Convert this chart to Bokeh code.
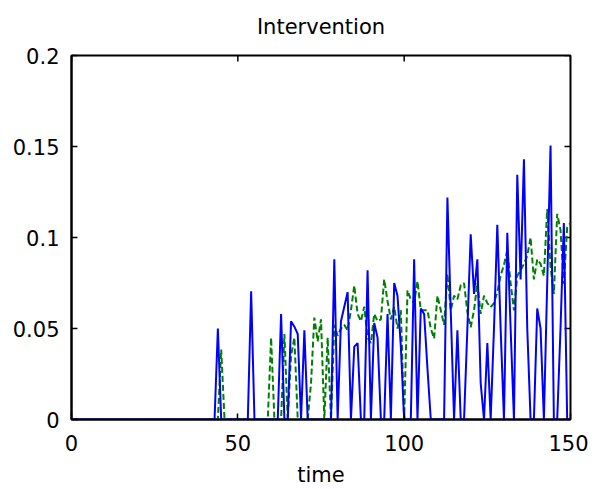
import math
from bokeh.plotting import figure
from bokeh.models import LinearAxis, FixedTicker, Range1d
from bokeh.embed import file_html
from bokeh.resources import INLINE

# ---- data ----
time = list(range(0, 151))

blue_nonzero = {
    44: 0.050, 54: 0.0705, 63: 0.058, 66: 0.054, 67: 0.051, 68: 0.047, 70: 0.049,
    79: 0.088, 81: 0.054, 82: 0.062, 83: 0.070, 85: 0.040, 86: 0.042, 89: 0.082,
    91: 0.053, 92: 0.045, 95: 0.058, 97: 0.075, 98: 0.068, 99: 0.040, 103: 0.088,
    105: 0.061, 106: 0.058, 107: 0.028, 113: 0.122, 114: 0.060, 116: 0.049,
    119: 0.050, 120: 0.1017, 121: 0.069, 122: 0.088, 123: 0.020, 125: 0.042,
    127: 0.050, 128: 0.107, 129: 0.050, 131: 0.1026, 132: 0.050, 134: 0.1345,
    135: 0.077, 136: 0.143, 137: 0.050, 140: 0.061, 141: 0.050, 143: 0.075,
    144: 0.1505, 147: 0.050, 148: 0.108,
}
green_nonzero = {
    45: 0.0385, 60: 0.045, 64: 0.047, 66: 0.035, 67: 0.045, 72: 0.020, 73: 0.056,
    74: 0.043, 75: 0.055, 77: 0.045, 79: 0.052, 80: 0.046, 81: 0.050, 82: 0.052,
    83: 0.049, 84: 0.060, 85: 0.0736, 86: 0.058, 87: 0.054, 88: 0.062, 89: 0.045,
    90: 0.042, 91: 0.058, 92: 0.054, 93: 0.055, 94: 0.077, 95: 0.065, 96: 0.055,
    97: 0.062, 98: 0.050, 99: 0.060, 101: 0.071, 102: 0.066, 103: 0.064,
    104: 0.076, 105: 0.060, 106: 0.060, 107: 0.060, 108: 0.050, 109: 0.0445,
    110: 0.068, 111: 0.060, 112: 0.052, 113: 0.080, 114: 0.060, 115: 0.068,
    116: 0.066, 117: 0.0736, 118: 0.075, 119: 0.059, 120: 0.0507, 121: 0.060,
    122: 0.075, 123: 0.058, 124: 0.068, 125: 0.064, 126: 0.0617, 127: 0.064,
    128: 0.070, 129: 0.079, 130: 0.085, 131: 0.093, 132: 0.075, 133: 0.060,
    134: 0.079, 135: 0.082, 136: 0.0855, 137: 0.090, 138: 0.100, 139: 0.077,
    140: 0.088, 141: 0.0855, 142: 0.079, 143: 0.1157, 144: 0.084, 145: 0.069,
    146: 0.113, 147: 0.104, 148: 0.0745, 149: 0.1056, 150: 0.108,
}
blue_series = [blue_nonzero.get(t, 0.0) for t in time]
green_series = [green_nonzero.get(t, 0.0) for t in time]

x_ticks = [0, 50, 100, 150]
y_ticks = [0, 0.05, 0.1, 0.15, 0.2]
y_tick_labels = ["0", "0.05", "0.1", "0.15", "0.2"]
title_text = "Intervention"
x_label = "time"

FONT = "DejaVu Sans"
FS = "21px"
X_MIN, X_MAX = 0, 150
Y_MIN, Y_MAX = 0, 0.2

p = figure(width=588, height=489, output_backend="svg", toolbar_location=None,
           x_range=Range1d(X_MIN, X_MAX), y_range=Range1d(Y_MIN, Y_MAX),
           x_axis_location=None, y_axis_location=None,
           min_border_left=71, min_border_right=18, min_border_top=55,
           min_border_bottom=62, title=title_text)
p.title.align = "center"
p.title.vertical_align = "top"
p.title.offset = -4
p.title.text_font = FONT
p.title.text_font_size = FS
p.title.text_font_style = "normal"
p.title.text_color = "black"
p.title.standoff = 29
p.grid.visible = False
p.outline_line_color = "black"
p.outline_line_width = 2
p.background_fill_color = "white"
p.border_fill_color = "white"

def style(ax):
    ax.axis_line_color = "black"
    ax.axis_line_width = 2
    ax.major_tick_in = 6
    ax.major_tick_out = 0
    ax.major_tick_line_color = "black"
    ax.major_tick_line_width = 1.5
    ax.minor_tick_line_color = None
    ax.major_label_text_font = FONT
    ax.major_label_text_color = "black"
    ax.major_label_text_font_size = FS

xb = LinearAxis(ticker=FixedTicker(ticks=x_ticks), axis_label=x_label)
style(xb)
xb.major_label_standoff = 15
xb.axis_label_text_font = FONT
xb.axis_label_text_font_size = FS
xb.axis_label_text_font_style = "normal"
xb.axis_label_text_color = "black"
xb.axis_label_standoff = 9
p.add_layout(xb, "below")

yl = LinearAxis(ticker=FixedTicker(ticks=y_ticks),
                major_label_overrides=dict(zip(y_ticks, y_tick_labels)))
style(yl)
yl.major_label_standoff = 12
p.add_layout(yl, "left")

# inward ticks on the top and right edges of the box (clipped to the frame)
p.scatter(x_ticks, [Y_MAX] * len(x_ticks), marker="dash", size=12,
          angle=math.pi / 2, line_color="black", line_width=1.5)
p.scatter([X_MAX] * len(y_ticks), y_ticks, marker="dash", size=12,
          line_color="black", line_width=1.5)

p.line(time, green_series, line_color="#008000", line_width=2, line_dash="6 3")
p.line(time, blue_series, line_color="#0000ff", line_width=2)

open("out.html", "w").write(file_html(p, INLINE))
